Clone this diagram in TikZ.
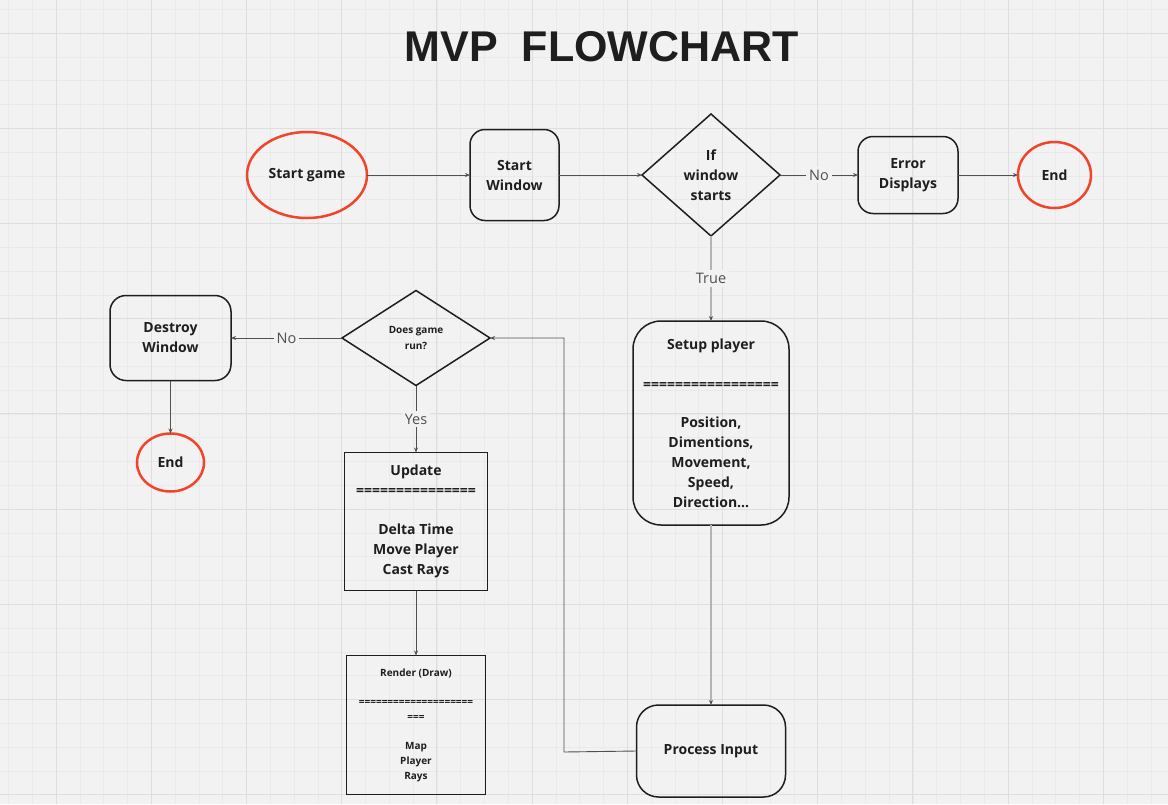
\documentclass[tikz,border=0pt]{standalone}
\usepackage{fontspec}
\setmainfont{Open Sans}
\newfontfamily\titlefont{Liberation Sans}
\usetikzlibrary{positioning,shapes.geometric,arrows.meta}
\definecolor{paper}{HTML}{F2F2F2}
\definecolor{minorline}{HTML}{EAEAEA}
\definecolor{majorline}{HTML}{DEDEDE}
\definecolor{ink}{HTML}{1E1E1E}
\definecolor{redline}{HTML}{F0452A}
\definecolor{wire}{HTML}{505050}
\definecolor{paleline}{HTML}{B4B4B4}
\tikzset{font=\fontsize{14}{20}\selectfont\bfseries}
\tikzset{
  box/.style={draw=ink, line width=1.5pt, text=ink, align=center, inner sep=0pt, outer sep=0pt},
  roundbox/.style={box, rounded corners=15pt},
  decision/.style={box, diamond},
  terminal/.style={draw=redline, line width=2.5pt, ellipse, text=ink, inner sep=0pt, outer sep=0pt},
  conn/.style={draw=wire, line width=0.9pt, -{Stealth[length=5pt,width=4pt]}},
  paleconn/.style={draw=paleline, line width=2pt, -{Stealth[length=5pt,width=4pt,color=wire]}},
  answer/.style={fill=paper, font=\fontsize{14.5}{16}\selectfont\mdseries, text=wire, inner sep=3pt},
}

\begin{document}
\begin{tikzpicture}[x=1pt, y=-1pt]
    \useasboundingbox (0,0) rectangle (1168,804);
    \fill[paper] (0,0) rectangle (1168,804);
    \foreach \i in {0,...,48}
      \draw[minorline, line width=0.6pt] ({8.4+23.8*\i},0) -- ({8.4+23.8*\i},804);
    \foreach \j in {0,...,33}
      \draw[minorline, line width=0.6pt] (0,{9.2+23.8*\j}) -- (1168,{9.2+23.8*\j});
    \foreach \i in {0,...,11}
      \draw[majorline, line width=1pt] ({56+95.2*\i},0) -- ({56+95.2*\i},804);
    \foreach \j in {0,...,8}
      \draw[majorline, line width=1pt] (0,{33+95.2*\j}) -- (1168,{33+95.2*\j});

    \node[font=\titlefont\bfseries\fontsize{43}{43}\selectfont, text=ink] (title) at (602,47) {MVP\ \ FLOWCHART};

    \node[terminal, minimum width=120pt, minimum height=86pt] (start) at (307,175) {Start game};
    \node[roundbox, minimum width=89pt, minimum height=91pt, right=103pt of start] (startwin) {Start\\Window};
    \node[decision, minimum width=138pt, minimum height=122pt, right=83pt of startwin] (winok) {If\\window\\starts};
    \node[roundbox, minimum width=100pt, minimum height=77pt, right=78pt of winok] (error) {Error\\Displays};
    \node[terminal, minimum width=73pt, minimum height=66pt, right=60pt of error] (end1) {End};

    \node[roundbox, rounded corners=28pt, minimum width=156pt, minimum height=204pt, below=85pt of winok] (setup)
      {Setup player\\[20pt]=================\\[18pt]Position,\\Dimentions,\\Movement,\\Speed,\\Direction…};
    \node[roundbox, rounded corners=22pt, minimum width=149pt, minimum height=92pt, below=180pt of setup] (input) {Process Input};

    \node[decision, minimum width=148pt, minimum height=95pt, font=\fontsize{10}{16}\selectfont\bfseries] (running) at (416,338) {Does game\\run?};
    \node[roundbox, rounded corners=16pt, minimum width=121pt, minimum height=85pt, left=111pt of running] (destroy) {Destroy\\Window};
    \node[terminal, minimum width=67pt, minimum height=58pt, below=53pt of destroy] (end2) {End};
    \node[box, minimum width=143pt, minimum height=138pt, below=67pt of running] (update)
      {Update\\===============\\[19pt]Delta Time\\Move Player\\Cast Rays};
    \node[box, minimum width=139pt, minimum height=139pt, below=65pt of update, font=\fontsize{10}{15}\selectfont\bfseries] (render)
      {Render (Draw)\\[14pt]====================\\===\\[14pt]Map\\Player\\Rays};

    \coordinate (loopback) at (564,752);

    \draw[conn] (start) -- (startwin);
    \draw[conn] (startwin) -- (winok);
    \draw[conn] (winok) -- node[answer] {No} (error);
    \draw[conn] (error) -- (end1);
    \draw[paleconn] (winok) -- node[answer] {True} (setup);
    \draw[paleconn] (setup) -- (input);
    \draw[conn] (input.west) -- (loopback) |- (running.east);
    \draw[conn] (running) -- node[answer] {No} (destroy);
    \draw[conn] (destroy) -- (end2);
    \draw[conn] (running) -- node[answer] {Yes} (update);
    \draw[conn] (update) -- (render);
\end{tikzpicture}
\end{document}
